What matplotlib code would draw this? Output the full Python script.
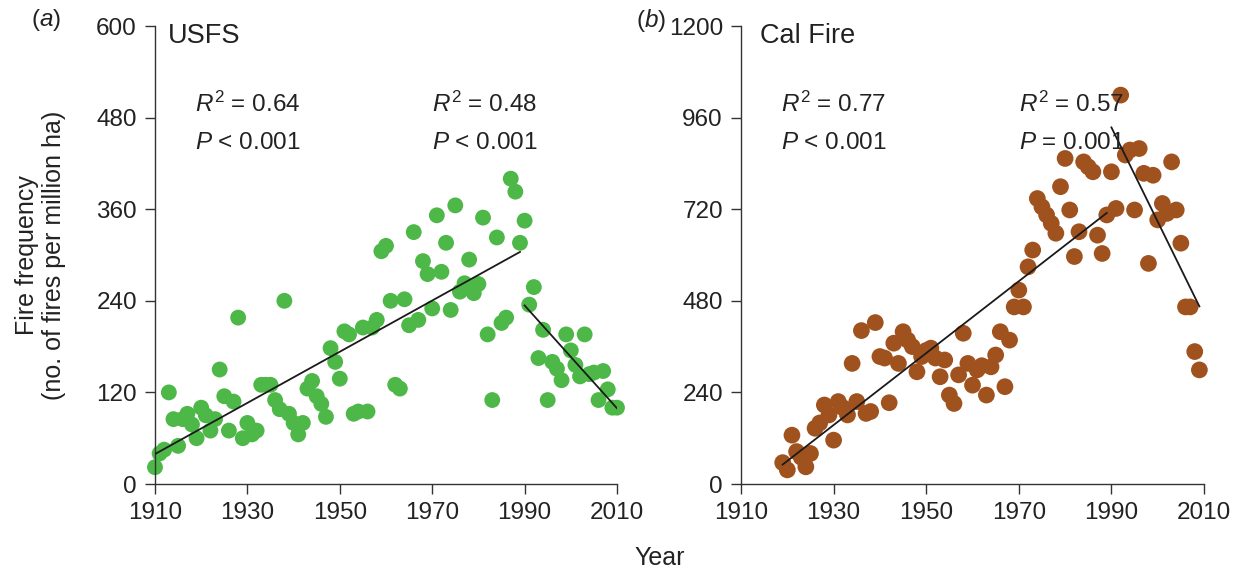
import numpy as np
import matplotlib
matplotlib.use("Agg")
import matplotlib.pyplot as plt

plt.rcParams['font.family'] = ['Liberation Sans', 'DejaVu Sans']
plt.rcParams['mathtext.fontset'] = 'custom'
plt.rcParams['mathtext.rm'] = 'Liberation Sans'
plt.rcParams['mathtext.it'] = 'Liberation Sans:italic'

# ---- data ----
usfs_years = list(range(1910, 2011))
usfs_values = [22, 40, 45, 120, 85, 50, 85, 92, 78, 60,
               100, 90, 70, 85, 150, 115, 70, 108, 218, 60,
               80, 65, 70, 130, 130, 130, 110, 98, 240, 92,
               80, 65, 80, 125, 135, 115, 105, 88, 178, 160,
               138, 200, 196, 92, 95, 205, 95, 205, 215, 305,
               312, 240, 130, 125, 242, 208, 330, 215, 292, 275,
               230, 352, 278, 316, 228, 365, 252, 263, 294, 250,
               262, 349, 196, 110, 323, 211, 218, 400, 383, 316,
               345, 235, 258, 165, 202, 110, 160, 151, 136, 196,
               175, 156, 141, 196, 144, 146, 110, 148, 124, 100,
               100]

cal_years = list(range(1919, 2010))
cal_values = [56, 37, 128, 85, 70, 45, 80, 146, 160, 207,
              181, 115, 216, 200, 181, 316, 216, 402, 185, 190,
              423, 334, 330, 213, 369, 316, 399, 377, 360, 294,
              334, 350, 356, 330, 281, 325, 233, 211, 286, 395,
              316, 259, 299, 310, 233, 307, 338, 399, 255, 377,
              464, 508, 464, 569, 613, 748, 726, 705, 683, 657,
              779, 853, 718, 596, 661, 844, 831, 818, 652, 604,
              705, 818, 722, 1019, 862, 875, 718, 879, 814, 578,
              809, 692, 735, 709, 844, 718, 631, 464, 464, 347,
              299]

break_year = 1990
usfs_stats = [("$R^2$ = 0.64", "$P$ < 0.001"), ("$R^2$ = 0.48", "$P$ < 0.001")]
cal_stats = [("$R^2$ = 0.77", "$P$ < 0.001"), ("$R^2$ = 0.57", "$P$ = 0.001")]

xticks = [1910, 1930, 1950, 1970, 1990, 2010]

fig = plt.figure(figsize=(12.34, 5.73), dpi=100)
axA = fig.add_axes([0.1256, 0.1553, 0.3744, 0.7993])
axB = fig.add_axes([0.6005, 0.1553, 0.3752, 0.7993])

FS = 17.5
TXT = '#222222'


def panel(ax, years, values, color, ymax, ystep, stats, name, name_x, size):
    years = np.array(years)
    values = np.array(values, dtype=float)
    ax.scatter(years, values, s=size, color=color, edgecolors='none',
               zorder=2, clip_on=False)
    for sel in (years < break_year, years >= break_year):
        x = years[sel]
        y = values[sel]
        b, a = np.polyfit(x, y, 1)
        xx = np.array([x.min(), x.max()])
        ax.plot(xx, a + b * xx, color='#1a1a1a', lw=1.3, zorder=3)
    ax.set_xlim(1910, 2010)
    ax.set_ylim(0, ymax)
    ax.set_xticks(xticks)
    ax.set_yticks(np.arange(0, ymax + 1, ystep))
    for s in ('top', 'right'):
        ax.spines[s].set_visible(False)
    for s in ('left', 'bottom'):
        ax.spines[s].set_color('#333333')
        ax.spines[s].set_linewidth(1.0)
    ax.tick_params(direction='out', length=7, width=1.0, color='#333333',
                   labelsize=FS, labelcolor=TXT, pad=6)
    ax.set_facecolor('none')
    xs = [0.087, 0.60]
    for (r2, p), xf in zip(stats, xs):
        ax.text(xf, 0.83, r2, transform=ax.transAxes, fontsize=FS,
                ha='left', va='center', color=TXT)
        ax.text(xf, 0.745, p, transform=ax.transAxes, fontsize=FS,
                ha='left', va='center', color=TXT)
    ax.text(name_x, 0.978, name, transform=ax.transAxes, fontsize=19.5,
            ha='left', va='center', color=TXT)


panel(axA, usfs_years, usfs_values, '#4db848', 600, 120, usfs_stats, 'USFS', 0.027, 130)
panel(axB, cal_years, cal_values, '#a0521e', 1200, 240, cal_stats, 'Cal Fire', 0.041, 145)

fig.text(46 / 1234, 1 - 20 / 573, '($a$)', fontsize=FS, ha='center', va='center', color=TXT)
fig.text(651 / 1234, 1 - 20 / 573, '($b$)', fontsize=FS, ha='center', va='center', color=TXT)

axA.set_ylabel('Fire frequency\n(no. of fires per million ha)', fontsize=18,
               color=TXT, linespacing=1.15, labelpad=22)
fig.text(660 / 1234, 1 - 558 / 573, 'Year', fontsize=18, ha='center',
         va='center', color=TXT)

fig.savefig('out.png', dpi=100)
